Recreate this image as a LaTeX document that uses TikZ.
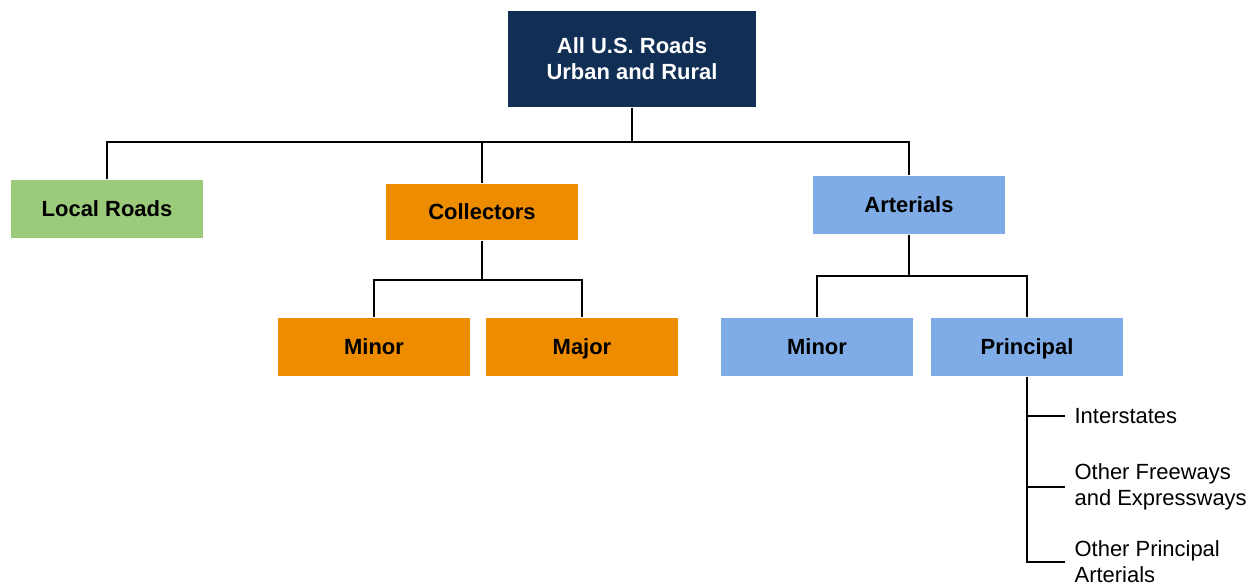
\documentclass[tikz,border=0pt]{standalone}
\usepackage{fontspec}
\setmainfont{Liberation Sans}
\definecolor{navyroad}{HTML}{112E55}
\definecolor{greenroad}{HTML}{9BCA7A}
\definecolor{orangeroad}{HTML}{EE8C00}
\definecolor{blueroad}{HTML}{7FACE7}

\begin{document}
\begin{tikzpicture}[x=0.02cm,y=-0.02cm,line width=0.7pt,
    font=\fontsize{12.5}{14.8}\selectfont,
    topbox/.style={minimum width=4.96cm,minimum height=1.92cm,inner sep=0pt,align=center,font=\fontsize{12.5}{14.8}\selectfont\bfseries},
    classbox/.style={minimum width=3.84cm,minimum height=1.16cm,inner sep=0pt,text height=10.5pt,text depth=1.5pt,font=\fontsize{12.5}{14.8}\selectfont\bfseries},
    leaf/.style={anchor=west,align=left,inner xsep=0.18cm,inner ysep=0pt}]
        \useasboundingbox (0,0) rectangle (1258,586);
        \def\hbus{142}
        \def\ybot{347}

        \node[topbox,fill=navyroad,text=white] (roads) at (632,59) {All U.S. Roads\\Urban and Rural};

        \node[classbox,fill=greenroad] (local) at (107,209) {Local Roads};
        \node[classbox,fill=orangeroad,minimum height=1.12cm] (collectors) at (482,212) {Collectors};
        \node[classbox,fill=blueroad] (arterials) at (909,205) {Arterials};

        \node[classbox,fill=orangeroad] (cminor) at (374,\ybot) {Minor};
        \node[classbox,fill=orangeroad] (cmajor) at (582,\ybot) {Major};
        \node[classbox,fill=blueroad] (aminor) at (817,\ybot) {Minor};
        \node[classbox,fill=blueroad] (principal) at (1027,\ybot) {Principal};

        \node[leaf] (interstates) at (1065,416) {Interstates};
        \node[leaf] (freeways) at (1065,487) {Other Freeways\\and Expressways};
        \node[leaf] (otherpa) at (1065,562) {Other Principal\\Arterials};

        % top level
        \coordinate (busA) at (632,\hbus);
        \draw (roads.south) -- (busA);
        \draw (local.north) |- (busA) -| (arterials.north);
        \draw (collectors.north) -- (collectors.north |- busA);

        % collectors
        \coordinate (busC) at (482,280);
        \draw (collectors.south) -- (busC);
        \draw (cminor.north) |- (busC) -| (cmajor.north);

        % arterials
        \coordinate (busR) at (909,276);
        \draw (arterials.south) -- (busR);
        \draw (aminor.north) |- (busR) -| (principal.north);

        % principal
        \draw (principal.south) |- (otherpa.west);
        \draw (interstates.west) -- (interstates.west -| principal.south);
        \draw (freeways.west) -- (freeways.west -| principal.south);
    \end{tikzpicture}
\end{document}
